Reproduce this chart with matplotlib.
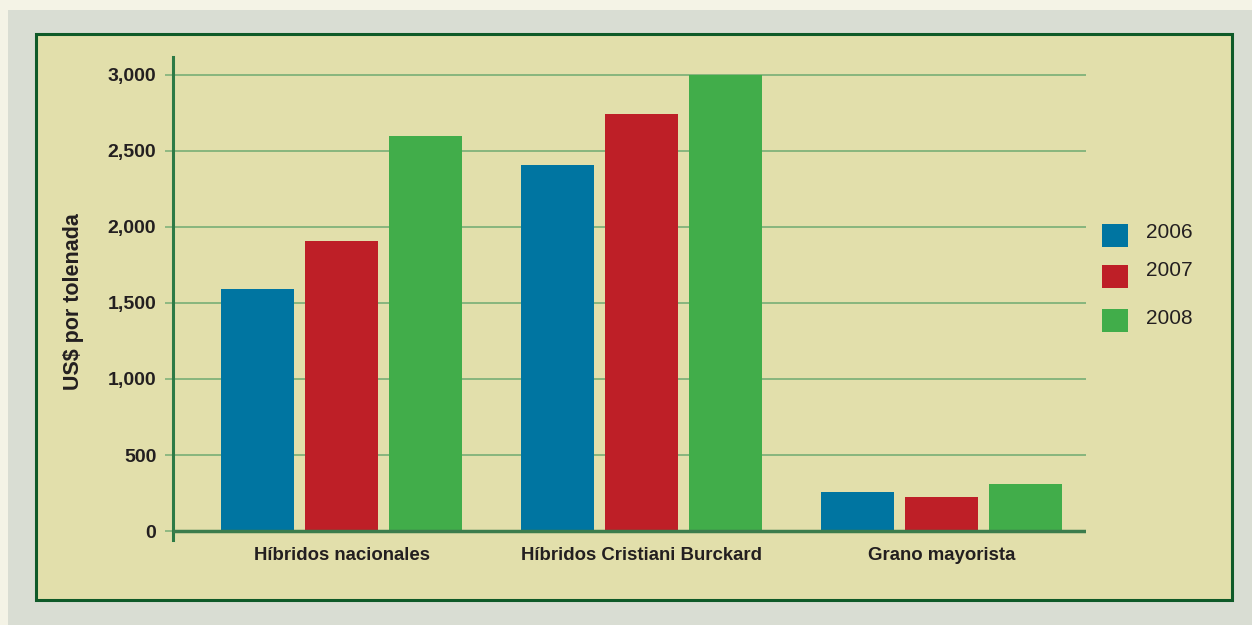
import numpy as np
import matplotlib
matplotlib.use("Agg")
import matplotlib.pyplot as plt
from matplotlib.patches import Rectangle

# data
categories = ["Híbridos nacionales", "Híbridos Cristiani Burckard", "Grano mayorista"]
years = ["2006", "2007", "2008"]
values = {
    "2006": [1590, 2410, 260],
    "2007": [1910, 2740, 222],
    "2008": [2600, 3000, 307],
}
yticks = [0, 500, 1000, 1500, 2000, 2500, 3000]
colors = ["#0075a1", "#be1f27", "#41ad4a"]

W, H = 1252, 625
fig = plt.figure(figsize=(W / 100, H / 100), dpi=100, facecolor="#f4f3e6")

def px(x0, y0, x1, y1):
    # figure-fraction rectangle from pixel box (top-left origin)
    return (x0 / W, 1 - y1 / H), (x1 - x0) / W, (y1 - y0) / H

xy, w, h = px(8, 10, W, H)
fig.patches.append(Rectangle(xy, w, h, transform=fig.transFigure,
                             facecolor="#d9ddd3", edgecolor="none", zorder=0))
xy, w, h = px(36, 34, 1232, 600)
fig.patches.append(Rectangle(xy, w, h, transform=fig.transFigure,
                             facecolor="#e2dfab", edgecolor="#0f5a28", lw=2.2, zorder=1))

ax = fig.add_axes([173 / W, 1 - 540 / H, (1086 - 173) / W, (540 - 57) / H])
ax.set_facecolor("none")
ax.set_zorder(5)

x = np.arange(len(categories))
bw, step = 0.245, 0.28
for i, yr in enumerate(years):
    ax.bar(x + (i - 1) * step, values[yr], width=bw, color=colors[i], zorder=3)

grid_c = "#78ae76"
axis_c = "#2d7a45"
ax.set_ylim(-59, 3118)
ax.set_xlim(-0.562, 2.482)
ax.set_yticks(yticks)
ax.set_yticklabels([f"{v:,}" for v in yticks], fontsize=14, fontweight="bold",
                   family="Liberation Sans", color="#231f20")
ax.set_xticks(x)
ax.set_xticklabels(categories, fontsize=13.4, fontweight="bold",
                   family="Liberation Sans", color="#231f20")
ax.tick_params(axis="y", length=6, width=1.1, color=grid_c, pad=6)
ax.tick_params(axis="x", length=0, pad=5)
ax.grid(axis="y", color=grid_c, lw=1.2, zorder=1)
ax.set_axisbelow(True)
for s in ["top", "right", "bottom"]:
    ax.spines[s].set_visible(False)
ax.spines["left"].set_color(axis_c)
ax.spines["left"].set_linewidth(2.2)
ax.axhline(0, color="#3b7c4c", lw=2.5, zorder=4)
ax.set_ylabel("US$ por tolenada", fontsize=15.5, fontweight="bold",
              family="Liberation Sans", color="#231f20")
ax.yaxis.set_label_coords(-0.098, 0.494)

# legend drawn by hand to match the reference placement
sq_top = [224, 265, 309]
txt_y = [232, 271, 319]
for i, yr in enumerate(years):
    xy, w, h = px(1102, sq_top[i], 1128, sq_top[i] + 23)
    fig.patches.append(Rectangle(xy, w, h, transform=fig.transFigure,
                                 facecolor=colors[i], edgecolor="none", zorder=2))
    fig.text(1146 / W, 1 - txt_y[i] / H, yr, fontsize=15, family="Liberation Sans",
             color="#231f20", va="center", ha="left")

fig.savefig("out.png", dpi=100, facecolor=fig.get_facecolor())
